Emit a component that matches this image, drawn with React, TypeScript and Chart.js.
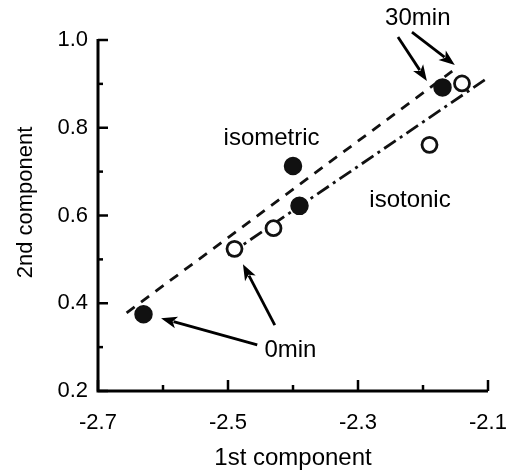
import { useEffect, useRef } from 'react';
import { Chart, registerables } from 'chart.js';

Chart.register(...registerables);

// ---- data ----
const isometricX = [-2.63, -2.40, -2.39, -2.17];
const isometricY = [0.375, 0.713, 0.622, 0.892];
const isotonicX = [-2.49, -2.43, -2.19, -2.14];
const isotonicY = [0.524, 0.571, 0.761, 0.901];

const isometricFitX = [-2.656, -2.155];
const isometricFitY = [0.378, 0.929];
const isotonicFitX = [-2.50, -2.105];
const isotonicFitY = [0.51, 0.909];

const xTicks = [-2.7, -2.5, -2.3, -2.1];
const xMinorTicks = [-2.6, -2.4, -2.2];
const yTicks = [0.2, 0.4, 0.6, 0.8, 1.0];
const yMinorTicks = [0.3, 0.5, 0.7, 0.9];

const xTitle = '1st component';
const yTitle = '2nd component';

// annotation labels (data coords of text baseline centre)
const labelTexts = ['30min', 'isometric', 'isotonic', '0min'];
const labelX = [-2.208, -2.433, -2.22, -2.404];
const labelY = [1.034, 0.761, 0.619, 0.2775];

// arrows: tail -> tip in data coords
const arrowTailX = [-2.2385, -2.217, -2.455, -2.428];
const arrowTailY = [1.007, 1.018, 0.305, 0.35];
const arrowTipX = [-2.194, -2.151, -2.603, -2.477];
const arrowTipY = [0.9066, 0.943, 0.366, 0.489];

const FONT = '"Liberation Sans", Arial, Helvetica, sans-serif';

const zip = (xs: number[], ys: number[]) => xs.map((v, i) => ({ x: v, y: ys[i] }));

const decorPlugin = {
  id: 'decor',
  afterDraw(chart: any) {
    const { ctx, chartArea: a } = chart;
    const xs = chart.scales.x;
    const ys = chart.scales.y;
    ctx.save();
    ctx.strokeStyle = '#000';
    ctx.fillStyle = '#000';
    ctx.lineCap = 'butt';

    // axes
    ctx.lineWidth = 3;
    ctx.beginPath();
    ctx.moveTo(a.left, a.top - 1);
    ctx.lineTo(a.left, a.bottom);
    ctx.lineTo(a.right, a.bottom);
    ctx.stroke();

    // ticks (inward)
    ctx.lineWidth = 2.5;
    const seg = (x1: number, y1: number, x2: number, y2: number) => {
      ctx.beginPath();
      ctx.moveTo(x1, y1);
      ctx.lineTo(x2, y2);
      ctx.stroke();
    };
    xTicks.forEach((v) => {
      const px = xs.getPixelForValue(v);
      seg(px, a.bottom, px, a.bottom - 11);
    });
    xMinorTicks.forEach((v) => {
      const px = xs.getPixelForValue(v);
      seg(px, a.bottom, px, a.bottom - 6);
    });
    yTicks.forEach((v) => {
      const py = ys.getPixelForValue(v);
      seg(a.left, py, a.left + 10, py);
    });
    yMinorTicks.forEach((v) => {
      const py = ys.getPixelForValue(v);
      seg(a.left, py, a.left + 5, py);
    });

    // axis titles
    ctx.textAlign = 'center';
    ctx.textBaseline = 'alphabetic';
    ctx.font = `24px ${FONT}`;
    ctx.fillText(xTitle, (a.left + a.right) / 2, a.bottom + 74);
    ctx.save();
    ctx.font = `22px ${FONT}`;
    ctx.translate(32, (a.top + a.bottom) / 2 - 13);
    ctx.rotate(-Math.PI / 2);
    ctx.fillText(yTitle, 0, 0);
    ctx.restore();

    // annotation labels
    ctx.font = `24px ${FONT}`;
    labelTexts.forEach((t, i) => {
      ctx.fillText(t, xs.getPixelForValue(labelX[i]), ys.getPixelForValue(labelY[i]));
    });

    // arrows
    ctx.lineWidth = 2.8;
    arrowTailX.forEach((_, i) => {
      const x1 = xs.getPixelForValue(arrowTailX[i]);
      const y1 = ys.getPixelForValue(arrowTailY[i]);
      const x2 = xs.getPixelForValue(arrowTipX[i]);
      const y2 = ys.getPixelForValue(arrowTipY[i]);
      const ang = Math.atan2(y2 - y1, x2 - x1);
      const hl = 16;
      const hw = 6;
      const bx = x2 - hl * Math.cos(ang);
      const by = y2 - hl * Math.sin(ang);
      seg(x1, y1, bx + 3 * Math.cos(ang), by + 3 * Math.sin(ang));
      ctx.beginPath();
      ctx.moveTo(x2, y2);
      ctx.lineTo(bx - hw * Math.sin(ang), by + hw * Math.cos(ang));
      ctx.lineTo(bx + 4 * Math.cos(ang), by + 4 * Math.sin(ang));
      ctx.lineTo(bx + hw * Math.sin(ang), by - hw * Math.cos(ang));
      ctx.closePath();
      ctx.fill();
    });

    ctx.restore();
  },
};

export default function App() {
  const ref = useRef<HTMLCanvasElement | null>(null);
  useEffect(() => {
    if (!ref.current) return;
    const chart = new Chart(ref.current, {
      type: 'scatter',
      data: {
        datasets: [
          {
            label: 'isometric',
            data: zip(isometricX, isometricY),
            pointRadius: 8.5,
            pointBackgroundColor: '#111',
            pointBorderColor: '#111',
            pointBorderWidth: 1.5,
            showLine: false,
          },
          {
            label: 'isotonic',
            data: zip(isotonicX, isotonicY),
            pointRadius: 7.5,
            pointBackgroundColor: '#fff',
            pointBorderColor: '#111',
            pointBorderWidth: 2.8,
            showLine: false,
          },
          {
            label: 'isometric fit',
            data: zip(isometricFitX, isometricFitY),
            showLine: true,
            pointRadius: 0,
            borderColor: '#111',
            borderWidth: 2.8,
            borderDash: [10, 8],
          },
          {
            label: 'isotonic fit',
            data: zip(isotonicFitX, isotonicFitY),
            showLine: true,
            pointRadius: 0,
            borderColor: '#111',
            borderWidth: 2.8,
            borderDash: [14, 5, 3, 5],
          },
        ],
      },
      options: {
        animation: false,
        responsive: false,
        events: [],
        layout: { padding: { left: 0, right: 20, top: 40, bottom: 0 } },
        plugins: { legend: { display: false }, tooltip: { enabled: false } },
        scales: {
          x: {
            type: 'linear',
            min: -2.7,
            max: -2.1,
            grid: { display: false, drawTicks: false },
            border: { display: false },
            afterBuildTicks: (s: any) => {
              s.ticks = xTicks.map((v) => ({ value: v }));
            },
            afterFit: (s: any) => {
              s.height = 81;
              s.paddingLeft = 0;
              s.paddingRight = 0;
            },
            ticks: {
              color: '#000',
              font: { size: 22, family: FONT },
              padding: 19,
              maxRotation: 0,
              autoSkip: false,
              callback: (v: any) => Number(v).toFixed(1),
            },
          },
          y: {
            type: 'linear',
            min: 0.2,
            max: 1.0,
            grid: { display: false, drawTicks: false },
            border: { display: false },
            afterBuildTicks: (s: any) => {
              s.ticks = yTicks.map((v) => ({ value: v }));
            },
            afterFit: (s: any) => {
              s.width = 98;
              s.paddingTop = 0;
              s.paddingBottom = 0;
            },
            ticks: {
              color: '#000',
              font: { size: 22, family: FONT },
              padding: 10,
              autoSkip: false,
              callback: (v: any) => Number(v).toFixed(1),
            },
          },
        },
      },
      plugins: [decorPlugin],
    });
    return () => chart.destroy();
  }, []);
  return (
    <div style={{ position: 'absolute', left: 0, top: 0, width: 508, height: 472, background: '#fff' }}>
      <canvas ref={ref} width={508} height={472} style={{ display: 'block' }} />
    </div>
  );
}
